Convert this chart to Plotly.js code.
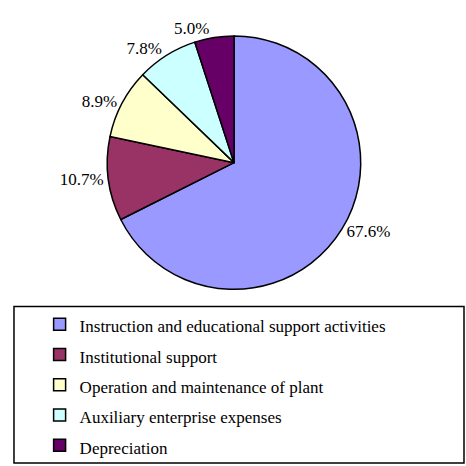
<!DOCTYPE html>
<html>
<head>
<meta charset="utf-8">
<script src="https://cdn.plot.ly/plotly-3.0.1.min.js"></script>
<style>
html,body{margin:0;padding:0;background:#fff;}
#chart{width:466px;height:466px;}
#chart text, #chart tspan { font-family: "Liberation Serif", "Times New Roman", serif !important; }
</style>
</head>
<body>
<div id="chart"></div>
<script>
var categories = [
  "Instruction and educational support activities",
  "Institutional support",
  "Operation and maintenance of plant",
  "Auxiliary enterprise expenses",
  "Depreciation"
];
var values = [67.6, 10.7, 8.9, 7.8, 5.0];
var colors = ["#9999FF", "#993366", "#FFFFCC", "#CCFFFF", "#660066"];

var FONT = "Times New Roman";

var legendLabels = categories.map(function (c) {
  return '<span style="font-size:17px">' + c + '</span>';
});

var trace = {
  type: "pie",
  labels: legendLabels,
  values: values,
  sort: false,
  direction: "clockwise",
  rotation: 0,
  marker: { colors: colors, line: { color: "#000000", width: 1.5 } },
  textposition: "outside",
  texttemplate: "%{percent:.1%}",
  textfont: { family: FONT, size: 17, color: "#000000" },
  outsidetextfont: { family: FONT, size: 17, color: "#000000" },
  hoverinfo: "none",
  domain: { x: [0.2296, 0.7747], y: [0.3777, 0.9227] }
};

var layout = {
  width: 466,
  height: 466,
  margin: { l: 0, r: 0, t: 0, b: 0 },
  paper_bgcolor: "#ffffff",
  plot_bgcolor: "#ffffff",
  font: { family: FONT, size: 17, color: "#000000" },
  showlegend: true,
  legend: {
    x: 0.085, xanchor: "left",
    y: 0.346, yanchor: "top",
    bgcolor: "rgba(0,0,0,0)",
    borderwidth: 0,
    font: { family: FONT, size: 21, color: "#000000" },
    traceorder: "normal"
  },
  shapes: [{
    type: "rect", xref: "paper", yref: "paper",
    x0: 0.030, x1: 0.9957, y0: 0.0043, y1: 0.341,
    line: { color: "#000000", width: 1.5 },
    fillcolor: "rgba(0,0,0,0)"
  }]
};

Plotly.newPlot("chart", [trace], layout, { displayModeBar: false, staticPlot: true });
</script>
</body>
</html>
